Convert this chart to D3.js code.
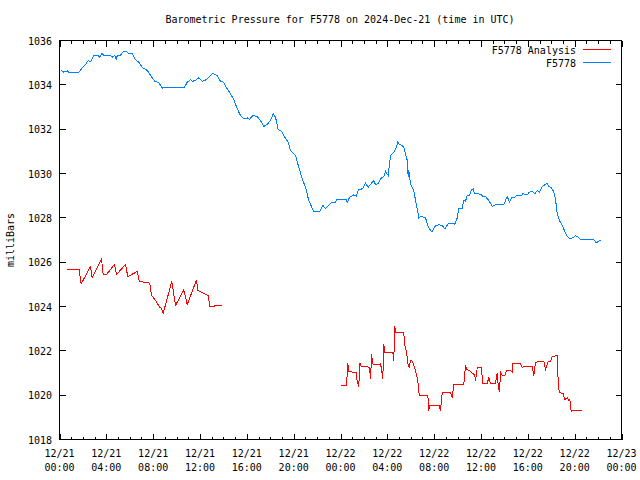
<!DOCTYPE html>
<html><head><meta charset="utf-8">
<script src="https://cdn.jsdelivr.net/npm/d3@7"></script>
<style>
body{margin:0;background:#fff;}
svg{display:block;}
text{font-family:"DejaVu Sans Mono","Liberation Mono",monospace;font-size:10px;fill:#000;}
</style></head>
<body><svg id="c" width="640" height="480"></svg>
<script>
// Hours since 2024-12-21 00:00 UTC, pressure in milliBars
const stationHours = [0.17,0.37,0.66,0.79,1.65,1.94,2.22,2.45,2.65,2.93,3.31,3.44,3.65,3.78,4.36,4.55,4.72,4.84,4.93,5.21,5.49,5.70,5.87,6.21,6.43,6.77,7.11,7.49,7.77,8.14,8.48,8.82,8.88,10.68,10.91,11.19,11.38,11.61,11.90,12.19,12.53,12.90,13.09,13.47,13.75,14.03,14.32,14.60,14.89,15.18,15.46,15.74,16.03,16.23,16.51,16.88,17.17,17.45,17.74,18.02,18.25,18.45,18.68,18.96,19.24,19.53,19.73,20.16,20.44,20.73,21.01,21.29,21.52,21.72,22.23,22.49,22.72,23.23,23.57,23.66,24.49,24.57,24.77,25.14,25.34,25.56,25.90,26.13,26.37,26.65,26.84,26.99,27.22,27.42,27.70,27.84,28.07,28.27,28.55,28.76,28.89,29.04,29.27,29.41,29.55,29.70,29.78,29.83,29.98,30.26,30.41,30.55,30.69,30.92,31.26,31.46,31.69,31.83,32.11,32.40,32.69,32.91,33.25,33.68,33.76,33.96,34.10,34.39,34.53,34.68,34.82,35.02,35.19,35.34,35.45,35.81,36.04,36.15,36.38,36.67,36.96,37.24,37.52,37.95,38.09,38.24,38.43,38.66,38.86,39.01,39.46,39.57,39.95,40.14,40.37,40.60,40.80,41.00,41.23,41.45,41.65,41.79,42.00,42.22,42.36,42.51,42.70,42.94,43.13,43.36,43.64,43.93,44.07,44.30,44.50,45.63,45.84,46.06,46.27];
const stationValues = [1034.65,1034.57,1034.63,1034.56,1034.56,1034.77,1034.92,1035.10,1035.04,1035.31,1035.31,1035.25,1035.43,1035.31,1035.31,1035.25,1035.34,1035.14,1035.31,1035.34,1035.52,1035.52,1035.43,1035.43,1035.17,1035.02,1034.77,1034.65,1034.43,1034.16,1034.11,1033.82,1033.89,1033.89,1034.12,1034.23,1034.16,1034.20,1034.32,1034.16,1034.23,1034.43,1034.52,1034.41,1034.16,1034.11,1033.82,1033.60,1033.33,1032.92,1032.62,1032.47,1032.51,1032.44,1032.62,1032.57,1032.39,1032.12,1032.21,1032.39,1032.69,1032.54,1031.97,1031.91,1031.64,1031.41,1031.04,1030.81,1030.28,1029.76,1029.38,1028.78,1028.51,1028.29,1028.29,1028.56,1028.41,1028.68,1028.68,1028.81,1028.81,1028.68,1028.93,1029.04,1028.98,1029.28,1029.31,1029.56,1029.38,1029.56,1029.68,1029.50,1029.54,1029.76,1029.87,1030.10,1029.91,1030.81,1030.96,1031.16,1031.41,1031.31,1031.26,1031.19,1030.89,1030.59,1029.83,1030.14,1029.54,1029.23,1028.78,1028.41,1028.00,1028.07,1028.00,1027.65,1027.43,1027.38,1027.65,1027.69,1027.65,1027.51,1027.76,1027.76,1027.69,1027.98,1028.41,1028.43,1028.78,1028.75,1029.01,1029.01,1029.28,1029.31,1029.08,1029.08,1029.04,1028.96,1028.96,1028.78,1028.51,1028.60,1028.59,1028.59,1028.78,1028.96,1028.71,1028.93,1028.90,1029.01,1029.01,1029.08,1029.05,1029.16,1029.19,1029.08,1029.23,1029.16,1029.41,1029.49,1029.56,1029.41,1029.38,1029.16,1028.86,1028.18,1027.88,1027.65,1027.43,1027.16,1027.05,1027.13,1027.19,1027.13,1027.02,1027.02,1026.87,1026.95,1027.01];

const analysis1Hours = [0.66,0.71,1.68,1.85,2.65,2.79,3.59,3.73,4.01,4.70,4.87,5.64,5.83,6.64,6.81,7.20,7.71,7.86,8.20,8.57,8.71,8.86,9.59,9.91,10.62,10.91,11.70,11.81,12.70,12.84,13.18,13.32,13.90];
const analysis1Values = [1025.70,1025.66,1025.66,1025.02,1025.80,1025.30,1026.15,1025.44,1025.44,1025.90,1025.44,1025.90,1025.35,1025.58,1025.13,1025.10,1025.05,1024.50,1024.27,1023.97,1023.92,1023.70,1025.13,1024.05,1024.75,1024.09,1025.20,1024.72,1024.50,1024.00,1024.00,1024.05,1024.05];

const analysis2Hours = [24.00,24.15,24.51,24.57,24.62,24.71,25.00,25.34,25.43,25.56,25.65,25.77,25.99,26.48,26.56,26.67,26.73,26.99,27.27,27.42,27.53,27.61,27.70,27.76,28.47,28.55,28.64,28.72,29.41,29.47,29.64,29.75,29.87,29.98,30.15,30.32,30.47,30.60,30.69,30.77,31.46,31.54,31.63,32.43,32.54,32.69,33.40,33.54,33.68,34.53,34.68,34.76,35.04,35.47,35.53,35.68,36.02,36.16,36.53,36.67,36.81,37.24,37.38,37.47,37.58,37.67,37.81,38.03,38.18,38.52,38.66,38.72,39.37,39.52,39.61,40.37,40.51,40.66,41.36,41.51,41.71,41.94,42.08,42.51,42.56,42.68,43.02,43.16,43.36,43.50,43.59,43.70,43.87,44.64];
const analysis2Values = [1020.48,1020.42,1020.42,1020.96,1021.46,1021.07,1021.04,1021.04,1020.59,1020.39,1021.46,1021.31,1021.31,1021.26,1020.74,1021.84,1021.42,1021.37,1021.37,1021.42,1021.08,1020.74,1022.32,1021.91,1021.91,1021.56,1023.10,1022.81,1022.81,1022.32,1021.94,1021.42,1021.26,1021.56,1021.53,1021.26,1020.96,1020.66,1020.13,1019.97,1019.97,1019.31,1019.52,1019.52,1019.31,1020.13,1020.13,1019.88,1020.47,1020.47,1021.34,1021.15,1021.11,1020.89,1020.63,1021.24,1021.24,1020.54,1020.54,1020.78,1020.54,1020.54,1020.99,1020.44,1020.13,1021.04,1020.89,1020.89,1021.11,1021.11,1021.04,1021.44,1021.44,1021.24,1021.29,1021.29,1020.89,1021.49,1021.53,1021.15,1021.49,1021.53,1021.75,1021.78,1020.96,1020.12,1020.06,1019.81,1019.88,1019.76,1019.81,1019.28,1019.31,1019.31];

const yTicks = [1018,1020,1022,1024,1026,1028,1030,1032,1034,1036];
const titleText = "Barometric Pressure for F5778 on 2024-Dec-21 (time in UTC)";
const yLabel = "milliBars";
const legendNames = ["F5778 Analysis","F5778"];
const colors = {analysis:"#ff0000", station:"#0080ff"};

const t0 = Date.UTC(2024,11,21,0,0);
const toDate = h => new Date(t0 + h*3600e3);
const zip = (hs, vs) => hs.map((h,i)=>({t:toDate(h), v:vs[i]}));

const L=59.5, R=621.5, T=40.5, B=439.5;
const svg = d3.select("#c");
const x = d3.scaleUtc().domain([toDate(0), toDate(48)]).range([L,R]);
const y = d3.scaleLinear().domain([1018,1036]).range([B,T]);

// title
svg.append("text").attr("x",340).attr("y",23).attr("text-anchor","middle").text(titleText);
// y label
svg.append("text").attr("transform","translate(14,240) rotate(-90)").attr("text-anchor","middle").text(yLabel);

// x ticks
const majors = d3.utcHour.every(4).range(toDate(0), toDate(48.01));
const minors = d3.utcHour.every(1).range(toDate(0), toDate(48.01));
const g = svg.append("g").attr("stroke","#000").attr("stroke-width",1).attr("shape-rendering","crispEdges");
minors.forEach(d=>{
  const xx = Math.round(x(d))+0.5;
  const isMajor = d.getUTCHours()%4===0;
  const len = isMajor?6:3;
  g.append("line").attr("x1",xx).attr("x2",xx).attr("y1",B).attr("y2",B-len);
  g.append("line").attr("x1",xx).attr("x2",xx).attr("y1",T).attr("y2",T+len);
});
yTicks.forEach(v=>{
  const yy = Math.round(y(v)-0.5)+0.5;
  g.append("line").attr("x1",L).attr("x2",L+6).attr("y1",yy).attr("y2",yy);
  g.append("line").attr("x1",R).attr("x2",R-6).attr("y1",yy).attr("y2",yy);
});
const fmtD = d3.utcFormat("%m/%d"), fmtT = d3.utcFormat("%H:%M");
majors.forEach(d=>{
  const xx = x(d);
  svg.append("text").attr("x",xx).attr("y",457).attr("text-anchor","middle").text(fmtD(d));
  svg.append("text").attr("x",xx).attr("y",471).attr("text-anchor","middle").text(fmtT(d));
});
yTicks.forEach(v=>{
  svg.append("text").attr("x",52).attr("y",y(v)+4).attr("text-anchor","end").text(v);
});

// data lines
const line = d3.line().x(d=>x(d.t)).y(d=>y(d.v));
const addLine = (data,color)=>svg.append("path").datum(data).attr("fill","none")
  .attr("stroke",color).attr("stroke-width",1).attr("shape-rendering","crispEdges").attr("d",line);
addLine(zip(analysis1Hours,analysis1Values), colors.analysis);
addLine(zip(analysis2Hours,analysis2Values), colors.analysis);
addLine(zip(stationHours,stationValues), colors.station);

// border
g.append("rect").attr("x",L).attr("y",T).attr("width",R-L).attr("height",B-T).attr("fill","none");

// legend
const legColors=[colors.analysis, colors.station];
legendNames.forEach((n,i)=>{
  const ly = 49.5 + i*13;
  svg.append("text").attr("x",576).attr("y",ly+4).attr("text-anchor","end").text(n);
  svg.append("line").attr("x1",583).attr("x2",611).attr("y1",ly).attr("y2",ly)
    .attr("stroke",legColors[i]).attr("stroke-width",1).attr("shape-rendering","crispEdges");
});
</script></body></html>
